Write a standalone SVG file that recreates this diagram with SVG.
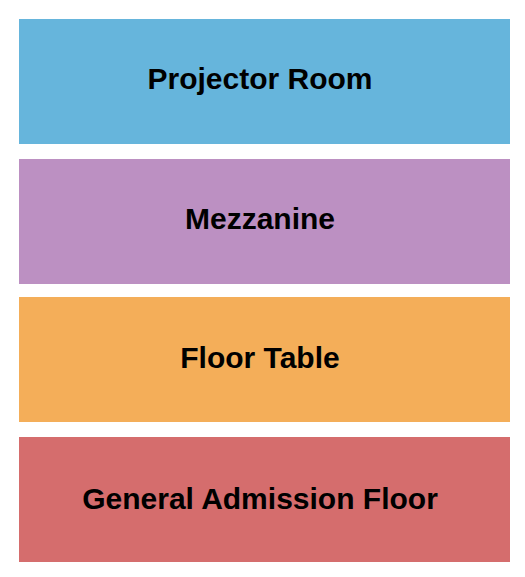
<svg xmlns="http://www.w3.org/2000/svg" width="525" height="577" viewBox="0 0 525 577">
<style>
.lbl{font-family:"Liberation Sans",Arial,sans-serif;font-weight:bold;font-size:30px;fill:#000;text-anchor:middle}
</style>
<rect width="525" height="577" fill="#fff"/>
<g id="projector-room"><rect x="19" y="19" width="491" height="125" fill="#66B5DC"/><text class="lbl" x="260" y="89">Projector Room</text></g>
<g id="mezzanine"><rect x="19" y="159" width="491" height="125" fill="#BC90C2"/><text class="lbl" x="260" y="229">Mezzanine</text></g>
<g id="floor-table"><rect x="19" y="297" width="491" height="125" fill="#F4AE59"/><text class="lbl" x="260" y="368">Floor Table</text></g>
<g id="general-admission-floor"><rect x="19" y="437" width="491" height="125" fill="#D56D6D"/><text class="lbl" x="260" y="509">General Admission Floor</text></g>
<g id="connectors"/>
</svg>
